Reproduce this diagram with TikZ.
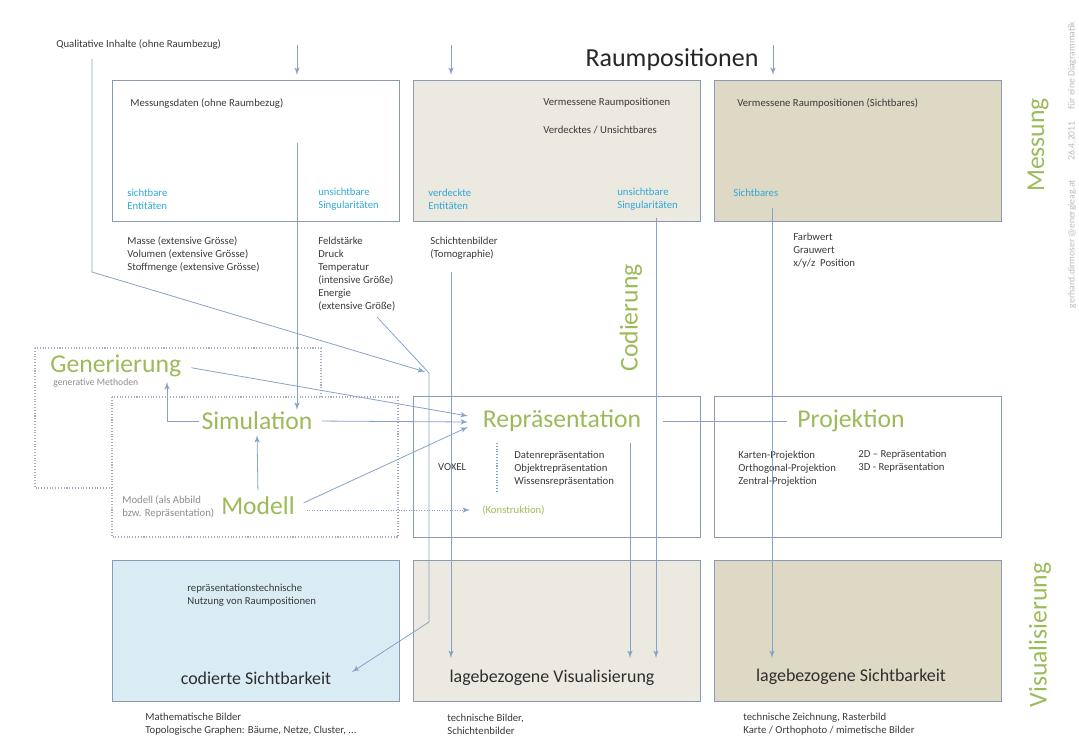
\documentclass[tikz,border=0pt]{standalone}
\usepackage{fontspec}
\setmainfont{Carlito}
\usepackage{tikz}
\usetikzlibrary{shapes,arrows,calc}
\definecolor{gruen}{HTML}{9BBB59}
\definecolor{hellblau}{HTML}{31A9D6}
\definecolor{linie}{HTML}{86A2C8}
\definecolor{rahmen}{HTML}{8C9AB4}
\definecolor{beigehell}{HTML}{ECE9E1}
\definecolor{beige}{HTML}{DDD9C5}
\definecolor{blauhell}{HTML}{DAECF3}
\definecolor{schrift}{HTML}{3A3A3A}
\definecolor{grau}{HTML}{8E8E8E}
\tikzstyle{line} = [draw, linie, line width=0.45pt, -latex']
\tikzstyle{block} = [draw=rahmen, line width=0.6pt, rectangle, anchor=north west, minimum width=5.74cm, minimum height=2.82cm, inner sep=0pt]
\tikzstyle{frame} = [draw=rahmen!80, densely dotted, line width=0.6pt]
\tikzstyle{note} = [font=\fontsize{6.1}{7.4}\selectfont, text=schrift, align=left, anchor=west, inner sep=0pt]
\tikzstyle{farbig} = [note, text=hellblau]
\tikzstyle{head} = [font=\fontsize{14.6}{17}\selectfont, text=gruen, inner sep=1pt]
\tikzstyle{title} = [font=\fontsize{10.2}{12}\selectfont, text=schrift!80!black]

\begin{document}
\begin{tikzpicture}[x=0.02cm, y=-0.02cm]
        \useasboundingbox (0,0) rectangle (1079,753);
        % Rahmen Generierung / Simulation
        \draw[frame] (35,348) rectangle (321,488);
        \draw[frame, fill=white] (112,397) rectangle (398,537);
        % Kaesten
        \node[block] (mess) at (112,80) {};
        \node[block, fill=beigehell] (verm) at (413,80) {};
        \node[block, fill=beige] (sicht) at (714,80) {};
        \node[block] (reprbox) at (413,396) {};
        \node[block] (projbox) at (714,396) {};
        \node[block, fill=blauhell] (codbox) at (112,560) {};
        \node[block, fill=beigehell] (visbox) at (413,560) {};
        \node[block, fill=beige] (lagebox) at (714,560) {};
        % Ueberschriften
        \node[font=\fontsize{14.8}{17}\selectfont, text=black!85] (raumpos) at (672,60) {Raumpositionen};
        \node[head, rotate=90] (messung) at (1038,145) {Messung};
        \node[head, rotate=90] (codierung) at (631,318) {Codierung};
        \node[head, rotate=90] (visual) at (1040,635) {Visualisierung};
        \node[head, anchor=west, inner sep=0pt] (gen) at (50,366) {Generierung};
        \node[head] (simu) at (257,421) {Simulation};
        \node[head] (modell) at (258,506) {Modell};
        \node[head] (repr) at (562,421) {Repräsentation};
        \node[head] (proj) at (851,421) {Projektion};
        \node[title] (codsicht) at (256,678) {codierte Sichtbarkeit};
        \node[title] (lagevis) at (552,678) {lagebezogene Visualisierung};
        \node[title] (lagesicht) at (851,677) {lagebezogene Sichtbarkeit};
        % Texte
        \node[note] (qual) at (56,45) {Qualitative Inhalte (ohne Raumbezug)};
        \node[note] (messdat) at (130,104) {Messungsdaten (ohne Raumbezug)};
        \node[farbig] (sichtA) at (127,199) {sichtbare\\Entitäten};
        \node[farbig] (unsichtA) at (318,199) {unsichtbare\\Singularitäten};
        \node[note] (masse) at (127,255) {Masse (extensive Grösse)\\Volumen (extensive Grösse)\\Stoffmenge (extensive Grösse)};
        \node[note] (feld) at (318,274) {Feldstärke\\Druck\\Temperatur\\(intensive Größe)\\Energie\\(extensive Größe)};
        \node[note] (vermB) at (543,103) {Vermessene Raumpositionen};
        \node[note] (verdB) at (543,130) {Verdecktes / Unsichtbares};
        \node[farbig] (verdeckt) at (428,199) {verdeckte\\Entitäten};
        \node[farbig] (unsichtB) at (617,199) {unsichtbare\\Singularitäten};
        \node[note] (schicht) at (430,248) {Schichtenbilder\\(Tomographie)};
        \node[note] (vermC) at (737,103) {Vermessene Raumpositionen (Sichtbares)};
        \node[farbig] (sichtC) at (733,193) {Sichtbares};
        \node[note] (farb) at (793,251) {Farbwert\\Grauwert\\x/y/z\ \ Position};
        \node[note, text=grau, font=\fontsize{5.5}{6.8}\selectfont] (genmeth) at (53,383) {generative Methoden};
        \node[note, text=grau] (modnote) at (122,507) {Modell (als Abbild\\bzw. Repräsentation)};
        \node[note, fill=white, inner sep=1pt] (voxel) at (436,467) {VOXEL};
        \node[note] (datenrep) at (514,469) {Datenrepräsentation\\Objektrepräsentation\\Wissensrepräsentation};
        \node[note, text=gruen] (konst) at (482,510) {(Konstruktion)};
        \node[note] (karten) at (738,469) {Karten-Projektion\\Orthogonal-Projektion\\Zentral-Projektion};
        \node[note] (dimrep) at (858,461) {2D – Repräsentation\\3D - Repräsentation};
        \node[note] (codnutz) at (187,595) {repräsentationstechnische\\Nutzung von Raumpositionen};
        \node[note] (mathbild) at (145,724) {Mathematische Bilder\\Topologische Graphen: Bäume, Netze, Cluster, ...};
        \node[note] (techbild) at (447,724) {technische Bilder,\\Schichtenbilder};
        \node[note] (techzeich) at (743,724) {technische Zeichnung, Rasterbild\\Karte / Orthophoto / mimetische Bilder};
        \node[rotate=90, font=\fontsize{5.5}{6.5}\selectfont, text=grau!60] (autor) at (1072,165) {gerhard.dirmoser @energieag.at\qquad 26.4.2011\quad\ für eine Diagrammatik};
        % Hilfspunkte
        \coordinate (eina) at (297,45);
        \coordinate (einb) at (451,45);
        \coordinate (einc) at (773,45);
        \coordinate (qualab) at (92,59);
        \coordinate (qualknick) at (92,272);
        \coordinate (knick) at (429,373);
        \coordinate (knickb) at (429,622);
        \coordinate (feldab) at (377,317);
        \coordinate (codin) at (352,672);
        \coordinate (simab) at (297,143);
        \coordinate (tomoab) at (451,272);
        \coordinate (singab) at (656,218);
        \coordinate (reprab) at (630,443);
        \coordinate (sichtab) at (772,208);
        \coordinate (ende) at (0,658);
        \coordinate (genin) at (167,382);
        \coordinate (rin1) at (468,416);
        \coordinate (rin2) at (468,422);
        \coordinate (rin3) at (468,427);
        % Verbindungen
        \path[line, shorten >=0.1cm] (eina) -- (eina |- mess.north);
        \path[line, shorten >=0.1cm] (einb) -- (einb |- verm.north);
        \path[line, shorten >=0.1cm] (einc) -- (einc |- sicht.north);
        \path[line, shorten >=0.08cm] (qualab) -- (qualknick) -- (knick);
        \path[line] (feldab) -- (knick) -- (knickb) -- (codin);
        \path[line] (simab) -- (simab |- simu.north);
        \path[line] (tomoab) -- (tomoab |- ende);
        \path[line] (singab) -- (singab |- ende);
        \path[line] (reprab) -- (reprab |- ende);
        \path[line] (sichtab) -- (sichtab |- ende);
        \path[line] (simu.west) -| (genin);
        \path[line, shorten <=0.1cm, shorten >=0.06cm] (modell.north) -- (simu.south);
        \path[line, shorten <=0.2cm] (gen.east) -- (rin1);
        \path[line, shorten <=0.15cm] (simu.east) -- (rin2);
        \path[line, shorten <=0.15cm] (modell.east) -- (rin3);
        \path[line, densely dotted, shorten <=0.2cm, shorten >=0.24cm] (modell.east |- konst.west) -- (konst.west);
        \path[draw, linie, line width=0.45pt, shorten <=0.4cm, shorten >=0.16cm] (repr.east) -- (proj.west);
        \draw[linie, densely dotted, line width=0.6pt] (497,443) -- (497,493);
    \end{tikzpicture}
\end{document}
